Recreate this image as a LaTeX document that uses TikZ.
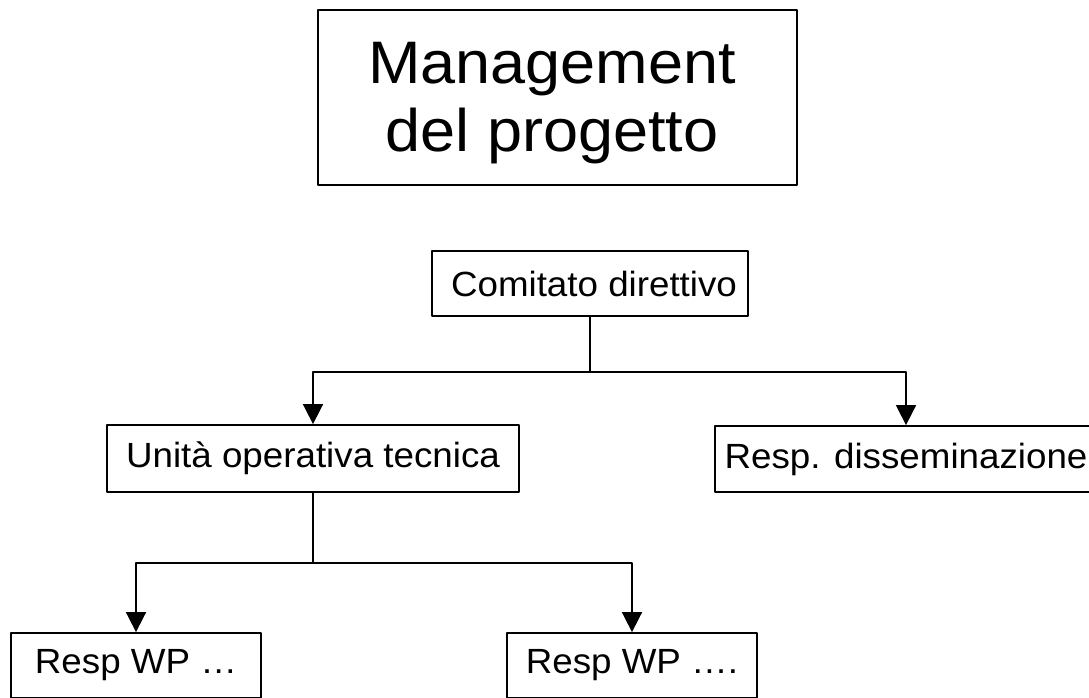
\documentclass[tikz,border=0pt]{standalone}
\usepackage{fontspec}
\setmainfont{Liberation Sans}[FakeStretch=1.05]
\usepackage{tikz}
\usetikzlibrary{arrows.meta}
\usetikzlibrary{positioning}

\begin{document}
\begin{tikzpicture}[x=1pt,y=1pt,line cap=round,line join=round,
		box/.style={draw,line width=1.8pt,minimum height=65pt,inner sep=0pt,font=\fontsize{35}{40}\selectfont},
		titlebox/.style={draw,line width=1.8pt,minimum width=479pt,minimum height=175pt,inner sep=0pt,font=\fontsize{60}{68}\selectfont},
		conn/.style={line width=1.7pt},
		arr/.style={line width=1.7pt,-{Triangle[length=20pt,width=20pt]}}]
	\useasboundingbox (0,0) rectangle (1089,-698);
	\clip (0,0) rectangle (1089,-698);
	\node[titlebox] (mgmt) at (557.5,-97.5) {\kern-11pt\raisebox{-6pt}[\height][\depth]{\begin{tabular}{@{}c@{}}Management\\del progetto\end{tabular}}};
	\node[box,minimum width=316pt] (comitato) at (590,-283.5) {\kern8pt Comitato direttivo};
	\node[box,minimum width=412pt,minimum height=67pt] (unita) at (313,-458.5) {Unità operativa tecnica};
	\node[box,minimum width=382pt,minimum height=66pt] (diss) at (906,-459) {Resp. disseminazione};
	\node[box,minimum width=250pt] (wpa) at (136,-665.5) {Resp WP …};
	\node[box,minimum width=250pt] (wpb) at (632,-665.5) {Resp WP ….};
	\draw[conn] (comitato.south) -- ++(0,-55) coordinate (split1);
	\draw[arr] (split1) -| (unita.north);
	\draw[arr] (split1) -| (diss.north);
	\draw[conn] (unita.south) -- ++(0,-70) coordinate (split2);
	\draw[arr] (split2) -| (wpa.north);
	\draw[arr] (split2) -| (wpb.north);
\end{tikzpicture}
\end{document}
